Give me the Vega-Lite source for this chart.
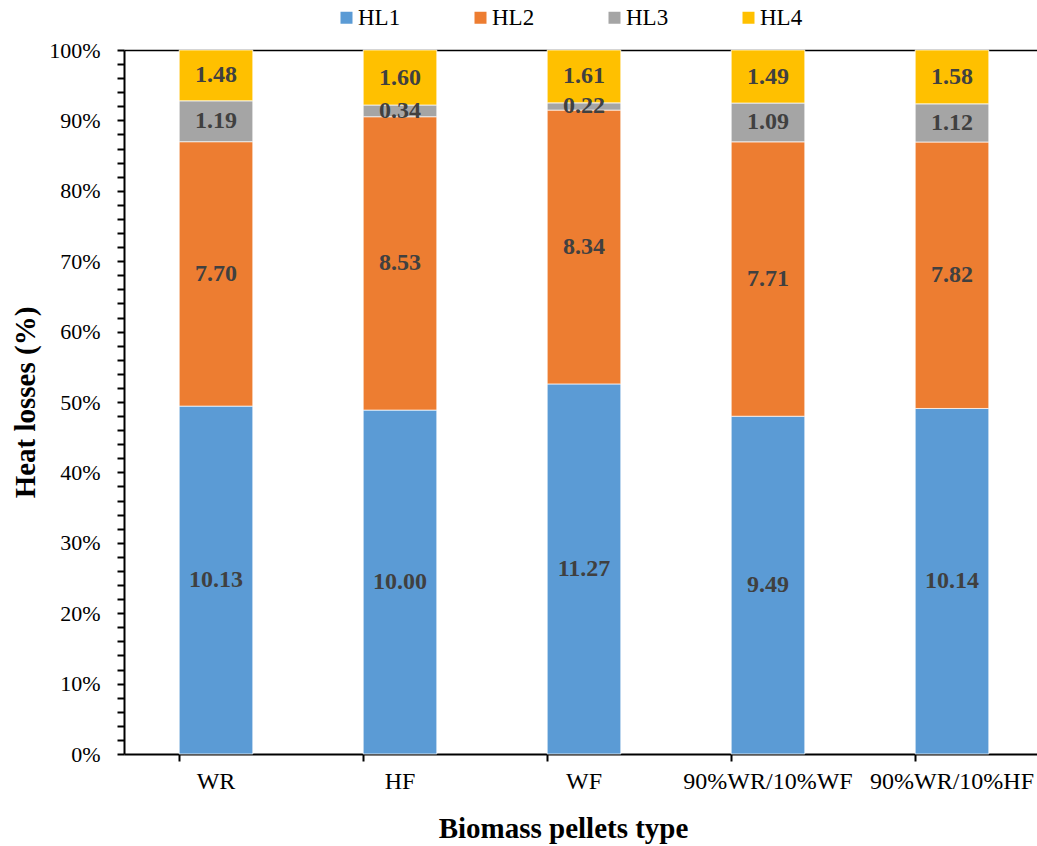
{
  "$schema": "https://vega.github.io/schema/vega-lite/v6.json",
  "width": 913,
  "height": 704,
  "autosize": "none",
  "padding": {"left": 124, "top": 50, "right": 0, "bottom": 92},
  "config": {
    "font": "Liberation Serif",
    "view": {"stroke": null},
    "axis": {"domainColor": "#000", "domainWidth": 2, "tickColor": "#000", "tickWidth": 2, "tickSize": 7, "labelColor": "#000", "titleColor": "#000"}
  },
  "data": {
    "values": [
      {"type": "WR", "series": "HL1", "value": 10.13},
      {"type": "WR", "series": "HL2", "value": 7.70},
      {"type": "WR", "series": "HL3", "value": 1.19},
      {"type": "WR", "series": "HL4", "value": 1.48},
      {"type": "HF", "series": "HL1", "value": 10.00},
      {"type": "HF", "series": "HL2", "value": 8.53},
      {"type": "HF", "series": "HL3", "value": 0.34},
      {"type": "HF", "series": "HL4", "value": 1.60},
      {"type": "WF", "series": "HL1", "value": 11.27},
      {"type": "WF", "series": "HL2", "value": 8.34},
      {"type": "WF", "series": "HL3", "value": 0.22},
      {"type": "WF", "series": "HL4", "value": 1.61},
      {"type": "90%WR/10%WF", "series": "HL1", "value": 9.49},
      {"type": "90%WR/10%WF", "series": "HL2", "value": 7.71},
      {"type": "90%WR/10%WF", "series": "HL3", "value": 1.09},
      {"type": "90%WR/10%WF", "series": "HL4", "value": 1.49},
      {"type": "90%WR/10%HF", "series": "HL1", "value": 10.14},
      {"type": "90%WR/10%HF", "series": "HL2", "value": 7.82},
      {"type": "90%WR/10%HF", "series": "HL3", "value": 1.12},
      {"type": "90%WR/10%HF", "series": "HL4", "value": 1.58}
    ]
  },
  "encoding": {
    "x": {
      "field": "type", "type": "nominal", "sort": null,
      "scale": {"range": [0, 920], "paddingInner": 0.6, "paddingOuter": 0.3},
      "axis": {
        "title": "Biomass pellets type", "titleFontSize": 29, "titleFontWeight": "bold", "titlePadding": 21,
        "titleX": 439, "titleAnchor": "middle",
        "labelFontSize": 24, "labelAngle": 0, "labelPadding": 8, "bandPosition": 0
      }
    },
    "order": {"field": "series", "type": "nominal", "sort": "ascending"}
  },
  "layer": [
    {
      "mark": {"type": "bar", "stroke": "#fff", "strokeWidth": 0.7},
      "encoding": {
        "y": {
          "field": "value", "type": "quantitative", "stack": "normalize",
          "scale": {"domain": [0, 1], "nice": false},
          "axis": {
            "title": "Heat losses (%)", "titleFontSize": 29, "titleFontWeight": "bold", "titlePadding": 8,
            "labelFontSize": 22, "labelPadding": 17, "labelOverlap": false,
            "values": [0,0.02,0.04,0.06,0.08,0.1,0.12,0.14,0.16,0.18,0.2,0.22,0.24,0.26,0.28,0.3,0.32,0.34,0.36,0.38,0.4,0.42,0.44,0.46,0.48,0.5,0.52,0.54,0.56,0.58,0.6,0.62,0.64,0.66,0.68,0.7,0.72,0.74,0.76,0.78,0.8,0.82,0.84,0.86,0.88,0.9,0.92,0.94,0.96,0.98,1],
            "labelExpr": "round(datum.value*100) % 10 == 0 ? format(datum.value, '.0%') : ''",
            "grid": true,
            "gridColor": "#000",
            "gridWidth": 1.5,
            "gridOpacity": {"condition": {"test": "datum.value >= 0.999", "value": 1}, "value": 0}
          }
        },
        "color": {
          "field": "series", "type": "nominal",
          "scale": {"domain": ["HL1", "HL2", "HL3", "HL4"], "range": ["#5B9BD5", "#ED7D31", "#A5A5A5", "#FFC000"]},
          "legend": {
            "title": null, "orient": "none", "direction": "horizontal",
            "legendX": 211, "legendY": -44,
            "symbolType": "square", "symbolSize": 144, "symbolStrokeWidth": 0,
            "labelFontSize": 23, "labelColor": "#000", "labelOffset": 0,
            "columnPadding": 68, "gridAlign": "all"
          }
        }
      }
    },
    {
      "mark": {"type": "text", "fontSize": 24, "fontWeight": "bold", "color": "#404040", "baseline": "middle"},
      "encoding": {
        "y": {
          "field": "value", "type": "quantitative", "stack": "normalize", "bandPosition": 0.5,
          "scale": {"domain": [0, 1], "nice": false},
          "axis": {
            "title": "Heat losses (%)", "titleFontSize": 29, "titleFontWeight": "bold", "titlePadding": 8,
            "labelFontSize": 22, "labelPadding": 17, "labelOverlap": false,
            "values": [0,0.02,0.04,0.06,0.08,0.1,0.12,0.14,0.16,0.18,0.2,0.22,0.24,0.26,0.28,0.3,0.32,0.34,0.36,0.38,0.4,0.42,0.44,0.46,0.48,0.5,0.52,0.54,0.56,0.58,0.6,0.62,0.64,0.66,0.68,0.7,0.72,0.74,0.76,0.78,0.8,0.82,0.84,0.86,0.88,0.9,0.92,0.94,0.96,0.98,1],
            "labelExpr": "round(datum.value*100) % 10 == 0 ? format(datum.value, '.0%') : ''",
            "grid": true,
            "gridColor": "#000",
            "gridWidth": 1.5,
            "gridOpacity": {"condition": {"test": "datum.value >= 0.999", "value": 1}, "value": 0}
          }
        },
        "detail": {"field": "series", "type": "nominal"},
        "text": {"field": "value", "type": "quantitative", "format": ".2f"}
      }
    }
  ]
}
